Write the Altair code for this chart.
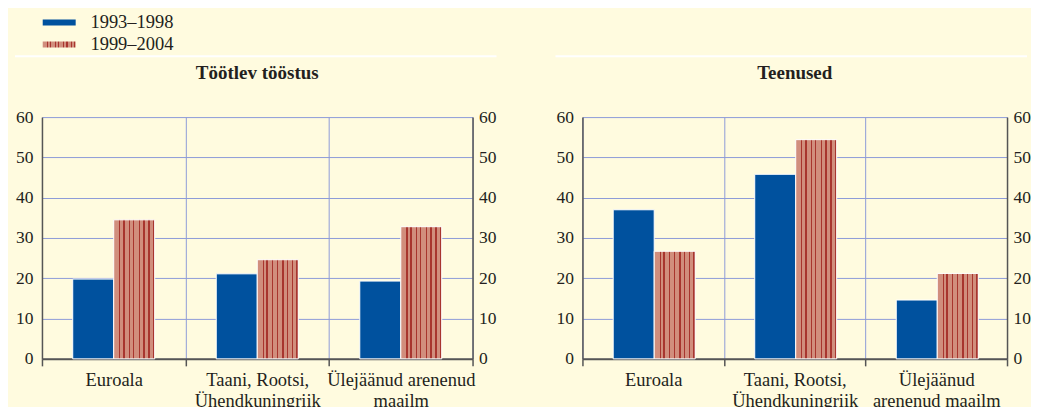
import altair as alt
import pandas as pd

periods = ["1993–1998", "1999–2004"]
cats_left = ["Euroala", "Taani, Rootsi,|Ühendkuningriik", "Ülejäänud arenenud|maailm"]
cats_right = ["Euroala", "Taani, Rootsi,|Ühendkuningriik", "Ülejäänud|arenenud maailm"]
manuf_1993 = [19.8, 21.1, 19.3]
manuf_1999 = [34.5, 24.6, 32.8]
serv_1993 = [37.0, 45.8, 14.6]
serv_1999 = [26.7, 54.4, 21.2]
y_ticks = [0, 10, 20, 30, 40, 50, 60]

BG = "#FFFBDF"
BLUE = "#00519E"
SALMON = "#D18E7D"
DARK = "#A8352E"
GRID = "#8E9CD8"
AXIS = "#555555"
TEXT = "#231F20"
FONT = "Liberation Serif"
H = 242

stripe_pos = [(0.135, 0.165), (0.225, 0.265), (0.365, 0.395), (0.475, 0.505),
              (0.615, 0.645), (0.715, 0.755), (0.845, 0.875), (0.955, 0.985)]
stops = [(0, SALMON)]
for a, b in stripe_pos:
    stops += [(a, SALMON), (a, DARK), (b, DARK), (b, SALMON)]
stops.append((1, SALMON))
stops_expr = ", ".join("{offset: %s, color: '%s'}" % (o, c) for o, c in stops)
STRIPES_EXPR = "{gradient: 'linear', x1: 0, y1: 0, x2: 1, y2: 0, stops: [%s]}" % stops_expr


def panel(cats, v1, v2, title, show_legend, W, sep_right):
    df = pd.DataFrame({
        "cat": cats + cats,
        "period": [periods[0]] * 3 + [periods[1]] * 3,
        "value": v1 + v2,
    })
    xenc = alt.X("cat:N", sort=cats, title=None,
                 scale=alt.Scale(paddingInner=0, paddingOuter=0),
                 axis=alt.Axis(orient="bottom", tickBand="extent", grid=True,
                               gridColor=GRID, gridWidth=1, domainColor=AXIS,
                               domainWidth=2, tickColor=AXIS, tickSize=7,
                               tickWidth=1.5, labelPadding=5, labelFontSize=18.5,
                               labelFont=FONT, labelColor=TEXT, labelAngle=0,
                               labelLineHeight=21,
                               labelExpr="split(datum.label, '|')"))
    xoff = alt.XOffset("period:N", scale=alt.Scale(domain=periods, paddingOuter=0.75,
                                                   paddingInner=0))
    yscale = alt.Scale(domain=[0, 60], nice=False)
    if show_legend:
        legend = alt.Legend(title=None, orient="none", legendX=8, legendY=-104,
                            symbolType="M-3,-0.55L3,-0.55L3,0.55L-3,0.55Z",
                            symbolSize=121, symbolStrokeWidth=0,
                            labelFont=FONT, labelFontSize=18.5, labelColor=TEXT,
                            labelOffset=22, rowPadding=3, padding=0)
    else:
        legend = None
    base = alt.Chart(df)
    bars = base.mark_bar(stroke="white", strokeWidth=1).encode(
        x=xenc, xOffset=xoff,
        y=alt.Y("value:Q", scale=yscale, title=None,
                axis=alt.Axis(orient="left", values=y_ticks, grid=True,
                              gridColor=GRID, gridWidth=1, domainColor=AXIS,
                              domainWidth=1.5, tickSize=0, labelPadding=9,
                              labelFont=FONT, labelFontSize=17.5,
                              labelColor=TEXT)),
        fill=alt.Fill("period:N",
                      scale=alt.Scale(domain=periods,
                                      range=[BLUE, alt.ExprRef(STRIPES_EXPR)]),
                      legend=legend),
    )
    raxis = base.mark_bar(opacity=0).encode(
        x=xenc, xOffset=xoff,
        y=alt.Y("value:Q", scale=yscale, title=None,
                axis=alt.Axis(orient="right", values=y_ticks, grid=False,
                              domainColor=AXIS, domainWidth=1.5, tickSize=0,
                              labelPadding=6, labelFont=FONT, labelFontSize=17.5,
                              labelColor=TEXT)),
    )
    sep = alt.Chart(pd.DataFrame({"a": [0]})).mark_rule(
        color="white", strokeWidth=2).encode(
        x=alt.value(-27), x2=alt.value(W + sep_right), y=alt.value(-61))
    ttl = alt.Chart(pd.DataFrame({"t": [title]})).mark_text(
        font=FONT, fontSize=19, fontWeight="bold", color=TEXT,
        align="center", baseline="alphabetic").encode(
        text="t:N", x=alt.value(W / 2), y=alt.value(-38))
    return alt.layer(bars, raxis, sep, ttl).resolve_axis(y="independent").properties(
        width=W, height=H)


left = panel(cats_left, manuf_1993, manuf_1999, "Töötlev tööstus", True, 431, 24)
right = panel(cats_right, serv_1993, serv_1999, "Teenused", False, 425, 20)

chart = alt.hconcat(left, right, spacing=57).resolve_legend(fill="independent").properties(
    background=BG,
    padding={"left": 6, "top": 5, "right": 0, "bottom": 0},
).configure_view(stroke=None)

chart.save("out.html", embed_options={"renderer": "svg", "actions": False})
